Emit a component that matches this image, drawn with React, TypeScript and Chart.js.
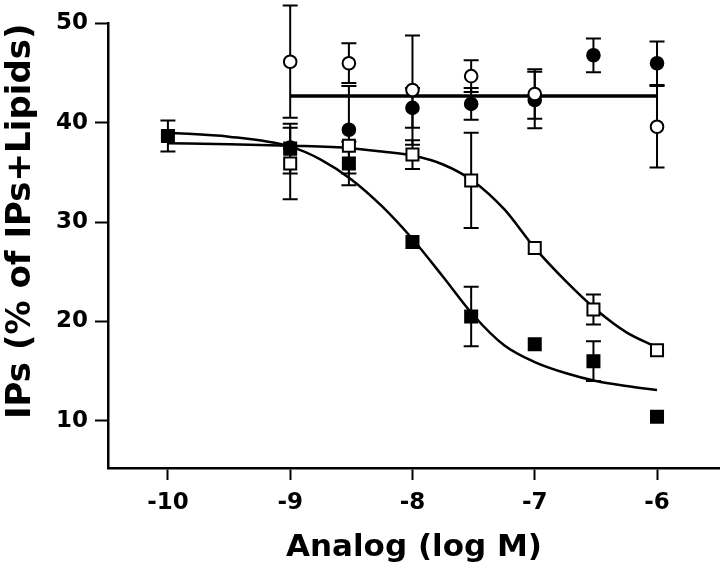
import React, { useEffect, useRef } from "react";
import { Chart, registerables } from "chart.js";

Chart.register(...registerables);

// ---- Axis ticks ----
const xTicks = [-10, -9, -8, -7, -6];
const yTicks = [10, 20, 30, 40, 50];

// ---- Control (open circles) ----
const ctrlX = [-9, -8.52, -8, -7.52, -7, -6];
const ctrlY = [46.15, 46.0, 43.3, 44.7, 42.9, 39.6];
const ctrlErr = [5.65, 2.0, 5.5, 1.6, 2.5, 4.1];

// ---- Filled circles ----
const fcX = [-9, -8.52, -8, -7.52, -7, -6.52, -6];
const fcY = [37.5, 39.3, 41.5, 41.9, 42.3, 46.8, 46.0];
const fcErr = [0, 4.4, 2.0, 1.6, 2.85, 1.7, 2.2];

// ---- Filled squares ----
const fsX = [-10, -9, -8.52, -8, -7.52, -7, -6.52, -6];
const fsY = [38.67, 37.4, 35.9, 28.0, 20.5, 17.7, 16.0, 10.4];
const fsErr = [1.55, 2.5, 2.2, 0, 3.0, 0, 2.0, 0];

// ---- Open squares ----
const osX = [-9, -8.52, -8, -7.52, -7, -6.52, -6];
const osY = [35.9, 37.7, 36.8, 34.2, 27.4, 21.2, 17.1];
const osErr = [3.6, 0, 1.45, 4.8, 0, 1.5, 0];

// ---- Fitted curves ----
const ctrlFitX = [-9, -6];
const ctrlFitY = [42.7, 42.7];

const fit1X = [-10, -9.5, -9, -8.75, -8.5, -8.25, -8, -7.75, -7.5, -7.25, -7, -6.75, -6.5, -6.25, -6];
const fit1Y = [39.0, 38.6, 37.6, 36.3, 34.3, 31.6, 28.3, 24.5, 20.6, 17.6, 15.9, 14.8, 14.0, 13.5, 13.1];

const fit2X = [-10, -9.5, -9, -8.5, -8.25, -8, -7.75, -7.5, -7.25, -7, -6.75, -6.5, -6.25, -6];
const fit2Y = [37.95, 37.85, 37.7, 37.45, 37.1, 36.7, 35.8, 34.1, 31.3, 27.4, 24.1, 21.2, 18.9, 17.4];

const zip = (xs: number[], ys: number[]) => xs.map((x, i) => ({ x, y: ys[i] }));

const FONT = "'DejaVu Sans', sans-serif";

const errorBarPlugin = {
  id: "errorBars",
  beforeDatasetsDraw(chart: any) {
    const ctx = chart.ctx;
    const xs = chart.scales.x;
    const ys = chart.scales.y;
    ctx.save();
    ctx.strokeStyle = "#000";
    ctx.lineWidth = 2;
    chart.data.datasets.forEach((ds: any) => {
      const errs = ds.errors;
      if (!errs) return;
      ds.data.forEach((p: any, i: number) => {
        const e = errs[i];
        if (!e) return;
        const px = xs.getPixelForValue(p.x);
        const top = ys.getPixelForValue(p.y + e);
        const bot = ys.getPixelForValue(p.y - e);
        const cw = 7.5;
        ctx.beginPath();
        ctx.moveTo(px, top);
        ctx.lineTo(px, bot);
        ctx.moveTo(px - cw, top);
        ctx.lineTo(px + cw, top);
        ctx.moveTo(px - cw, bot);
        ctx.lineTo(px + cw, bot);
        ctx.stroke();
      });
    });
    ctx.restore();
  },
};

export default function App() {
  const ref = useRef<HTMLCanvasElement | null>(null);

  useEffect(() => {
    if (!ref.current) return;
    const markerCommon = { showLine: false, borderColor: "#000", borderWidth: 2 };
    const chart = new Chart(ref.current, {
      type: "scatter",
      data: {
        datasets: [
          {
            ...markerCommon,
            label: "open squares",
            data: zip(osX, osY),
            errors: osErr,
            pointStyle: "rect",
            pointRadius: 8.5,
            backgroundColor: "#fff",
          } as any,
          {
            ...markerCommon,
            label: "filled squares",
            data: zip(fsX, fsY),
            errors: fsErr,
            pointStyle: "rect",
            pointRadius: 8.5,
            backgroundColor: "#000",
          } as any,
          {
            ...markerCommon,
            label: "control",
            data: zip(ctrlX, ctrlY),
            errors: ctrlErr,
            pointStyle: "circle",
            pointRadius: 6.3,
            backgroundColor: "#fff",
          } as any,
          {
            ...markerCommon,
            label: "filled circles",
            data: zip(fcX, fcY),
            errors: fcErr,
            pointStyle: "circle",
            pointRadius: 6.3,
            backgroundColor: "#000",
          } as any,
          {
            label: "control fit",
            data: zip(ctrlFitX, ctrlFitY),
            showLine: true,
            pointRadius: 0,
            borderColor: "#000",
            borderWidth: 3.5,
          },
          {
            label: "fit filled",
            data: zip(fit1X, fit1Y),
            showLine: true,
            pointRadius: 0,
            borderColor: "#000",
            borderWidth: 2.5,
            cubicInterpolationMode: "monotone",
          },
          {
            label: "fit open",
            data: zip(fit2X, fit2Y),
            showLine: true,
            pointRadius: 0,
            borderColor: "#000",
            borderWidth: 2.5,
            cubicInterpolationMode: "monotone",
          },
        ],
      },
      options: {
        animation: false,
        responsive: false,
        devicePixelRatio: 1,
        layout: { autoPadding: false, padding: { top: 23.5, right: 0, bottom: 0, left: 0 } },
        plugins: {
          legend: { display: false },
          tooltip: { enabled: false },
          title: { display: false },
        },
        scales: {
          x: {
            type: "linear",
            min: -10.49,
            max: -5.485,
            afterBuildTicks: (s: any) => {
              s.ticks = xTicks.map((v) => ({ value: v }));
            },
            afterFit: (s: any) => {
              s.height = 113;
              s.paddingLeft = 0;
              s.paddingRight = 0;
            },
            grid: {
              display: true,
              drawOnChartArea: false,
              drawTicks: true,
              tickLength: 12,
              tickWidth: 2,
              color: "#000",
            },
            border: { display: true, color: "#000", width: 2.5 },
            ticks: {
              color: "#000",
              padding: 9,
              font: { family: FONT, size: 23, weight: "bold" },
              callback: (v: any) => String(v),
            },
            title: {
              display: true,
              text: "Analog (log M)",
              color: "#000",
              font: { family: FONT, size: 31, weight: "bold" },
              padding: { top: 0, bottom: 14 },
            },
          },
          y: {
            type: "linear",
            min: 5.24,
            max: 50,
            afterBuildTicks: (s: any) => {
              s.ticks = yTicks.map((v) => ({ value: v }));
            },
            afterFit: (s: any) => {
              s.width = 108;
            },
            grid: {
              display: true,
              drawOnChartArea: false,
              drawTicks: true,
              tickLength: 13,
              tickWidth: 2,
              color: "#000",
            },
            border: { display: true, color: "#000", width: 2.5 },
            ticks: {
              color: "#000",
              padding: 7,
              font: { family: FONT, size: 23, weight: "bold" },
              callback: (v: any) => String(v),
            },
            title: {
              display: true,
              text: "IPs (% of IPs+Lipids)",
              align: "end",
              color: "#000",
              font: { family: FONT, size: 34, weight: "bold" },
              padding: { top: 1, bottom: 0 },
            },
          },
        },
      } as any,
      plugins: [errorBarPlugin],
    });
    return () => chart.destroy();
  }, []);

  return (
    <div style={{ position: "fixed", left: 0, top: 0, width: 720, height: 581, background: "#fff" }}>
      <canvas ref={ref} width={720} height={581} style={{ display: "block", width: 720, height: 581 }} />
    </div>
  );
}
